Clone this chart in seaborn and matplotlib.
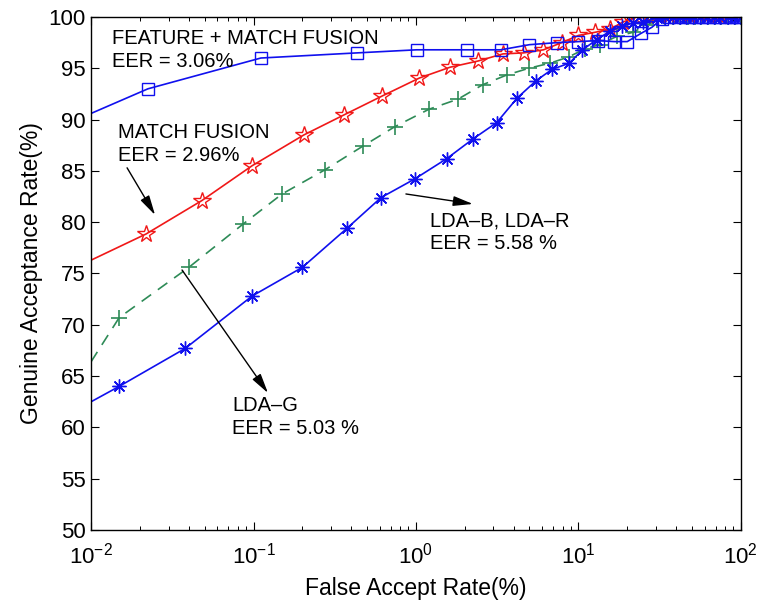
import matplotlib
matplotlib.use("Agg")
import matplotlib.pyplot as plt
import seaborn as sns
import pandas as pd
from matplotlib.ticker import LogLocator, NullFormatter, FixedLocator

# ---------------- data ----------------
far_fusion = [0.01, 0.0224, 0.111, 0.434, 1.01, 2.06, 3.33, 5.0, 7.4, 10.0, 13.2, 16.6, 20.0,
              24.3, 28.4, 32.6, 36, 40, 44, 48, 53, 58, 63, 68, 74, 80, 87, 93, 100]
gar_fusion = [90.6, 93.0, 96.0, 96.5, 96.8, 96.8, 96.8, 97.3, 97.5, 97.6, 97.7, 97.6, 97.6,
              98.4, 99.0, 99.8, 100, 100, 100, 100, 100, 100, 100, 100, 100, 100, 100, 100, 100]

far_match = [0.01, 0.0218, 0.048, 0.098, 0.204, 0.36, 0.62, 1.05, 1.62, 2.4, 3.43, 4.6, 6.1,
             7.9, 10.0, 12.6, 15.6, 18.8, 22.9, 26.8, 31, 36, 42, 48, 55, 63, 72, 82, 100]
gar_match = [76.3, 78.85, 82.1, 85.5, 88.5, 90.45, 92.3, 94.05, 95.1, 95.7, 96.4, 96.5, 96.8,
             97.5, 98.2, 98.5, 98.8, 99.5, 100.0, 100.1, 100.2, 100.2, 100.2, 100.2, 100.2,
             100.2, 100.2, 100.3, 100.3]

far_ldag = [0.01, 0.0149, 0.040, 0.086, 0.15, 0.275, 0.47, 0.74, 1.2, 1.82, 2.58, 3.63, 4.95,
            6.7, 8.7, 11.0, 13.5, 17.2, 21.6, 26.4, 30.5, 34, 38, 42, 47, 52, 57, 63, 69, 76,
            84, 92, 100]
gar_ldag = [66.4, 70.7, 75.6, 79.8, 82.75, 85.1, 87.4, 89.3, 91.0, 92.0, 93.4, 94.35, 95.0,
            95.5, 96.1, 96.9, 97.3, 98.1, 98.5, 99.2, 99.7, 99.9, 100, 100, 100, 100, 100, 100,
            100, 100, 100, 100, 100]

far_ldabr = [0.01, 0.0149, 0.038, 0.098, 0.2, 0.376, 0.61, 0.98, 1.55, 2.24, 3.14, 4.2, 5.5,
             6.9, 8.8, 10.6, 13.0, 15.6, 18.5, 21.6, 25.0, 30.4, 34, 38, 42, 46, 51, 56, 62,
             68, 75, 83, 91, 100]
gar_ldabr = [62.5, 64.0, 67.7, 72.8, 75.6, 79.4, 82.4, 84.2, 86.2, 88.1, 89.7, 92.1, 93.8,
             94.9, 95.5, 96.8, 97.8, 98.6, 99.1, 99.4, 99.5, 99.9, 100, 100, 100, 100, 100,
             100, 100, 100, 100, 100, 100, 100]

x_label = "False Accept Rate(%)"
y_label = "Genuine Acceptance Rate(%)"
y_ticks = [50, 55, 60, 65, 70, 75, 80, 85, 90, 95, 100]

txt_fusion = "FEATURE + MATCH FUSION\nEER = 3.06%"
txt_match = "MATCH FUSION\nEER = 2.96%"
txt_ldabr = "LDA\u2013B, LDA\u2013R\nEER = 5.58 %"
txt_ldag = "LDA\u2013G\nEER = 5.03 %"

# ---------------- figure ----------------
sns.set_style("ticks")
plt.rcParams["font.family"] = ["Liberation Sans", "DejaVu Sans"]
plt.rcParams["mathtext.fontset"] = "custom"
plt.rcParams["mathtext.rm"] = "Liberation Sans"
plt.rcParams["mathtext.it"] = "Liberation Sans"
plt.rcParams["text.color"] = "black"
plt.rcParams["axes.labelcolor"] = "black"

fig = plt.figure(figsize=(7.59, 6.04), dpi=100)
fig.patch.set_facecolor("white")
ax = fig.add_axes([0.12, 0.1225, 0.856, 0.8494])

GREEN = "#2e8b57"
BLUE = "#1010ee"
RED = "#f01818"

df_g = pd.DataFrame({"x": far_ldag, "y": gar_ldag})
sns.lineplot(data=df_g, x="x", y="y", ax=ax, estimator=None, sort=False, color=GREEN,
             linewidth=1.2, linestyle=(0, (7, 5)), marker="+", markersize=11,
             markeredgewidth=1.2, markeredgecolor=GREEN, markevery=slice(1, None))

df_r = pd.DataFrame({"x": far_match, "y": gar_match})
sns.lineplot(data=df_r, x="x", y="y", ax=ax, estimator=None, sort=False, color=RED,
             linewidth=1.2, marker="*", markersize=13, markerfacecolor="none",
             markeredgecolor=RED, markeredgewidth=1.0, markevery=slice(1, None))

df_s = pd.DataFrame({"x": far_fusion, "y": gar_fusion})
sns.lineplot(data=df_s, x="x", y="y", ax=ax, estimator=None, sort=False, color=BLUE,
             linewidth=1.2, marker="s", markersize=8, markerfacecolor="none",
             markeredgecolor=BLUE, markeredgewidth=1.0, markevery=slice(1, None))

df_b = pd.DataFrame({"x": far_ldabr, "y": gar_ldabr})
sns.lineplot(data=df_b, x="x", y="y", ax=ax, estimator=None, sort=False, color=BLUE,
             linewidth=1.2, marker=(8, 2, 0), markersize=10, markeredgewidth=1.0,
             markeredgecolor=BLUE, markevery=slice(1, None))

ax.set_xscale("log")
ax.set_xlim(0.01, 100)
ax.set_ylim(50, 100)
ax.yaxis.set_major_locator(FixedLocator(y_ticks))
ax.xaxis.set_major_locator(LogLocator(base=10, numticks=10))
ax.xaxis.set_minor_locator(LogLocator(base=10, subs=range(2, 10), numticks=50))
ax.xaxis.set_minor_formatter(NullFormatter())

ax.set_xlabel(x_label, fontsize=16.5, labelpad=6, color="black")
ax.set_ylabel(y_label, fontsize=16.5, labelpad=4, color="black")

for s in ax.spines.values():
    s.set_visible(True)
    s.set_linewidth(1.0)
    s.set_color("black")
ax.tick_params(axis="both", which="both", direction="in", top=True, right=True,
               colors="black", labelsize=16, labelcolor="black")
ax.tick_params(which="major", length=6, width=0.8)
ax.tick_params(which="minor", length=3, width=0.7)
ax.tick_params(axis="x", pad=9)
ax.tick_params(axis="y", pad=4)
ax.grid(False)
ax.set_facecolor("white")

tkw = dict(transform=ax.transAxes, fontsize=14.5, color="black", ha="left", va="center",
           linespacing=1.25)
ax.text(0.032, 0.935, txt_fusion, **tkw)
ax.text(0.0415, 0.752, txt_match, **tkw)
ax.text(0.5215, 0.58, txt_ldabr, **tkw)
ax.text(0.217, 0.221, txt_ldag, **tkw)

apr = dict(arrowstyle="-|>,head_length=1.2,head_width=0.3", color="black", lw=1.0,
           shrinkA=0, shrinkB=0)
ax.annotate("", xy=(0.0985, 0.614), xytext=(0.0554, 0.706), xycoords="axes fraction",
            textcoords="axes fraction", arrowprops=apr)
ax.annotate("", xy=(0.5877, 0.6355), xytext=(0.4846, 0.655), xycoords="axes fraction",
            textcoords="axes fraction", arrowprops=apr)
ax.annotate("", xy=(0.2723, 0.267), xytext=(0.14, 0.5068), xycoords="axes fraction",
            textcoords="axes fraction", arrowprops=apr)

fig.savefig("out.png", dpi=100, facecolor="white")
